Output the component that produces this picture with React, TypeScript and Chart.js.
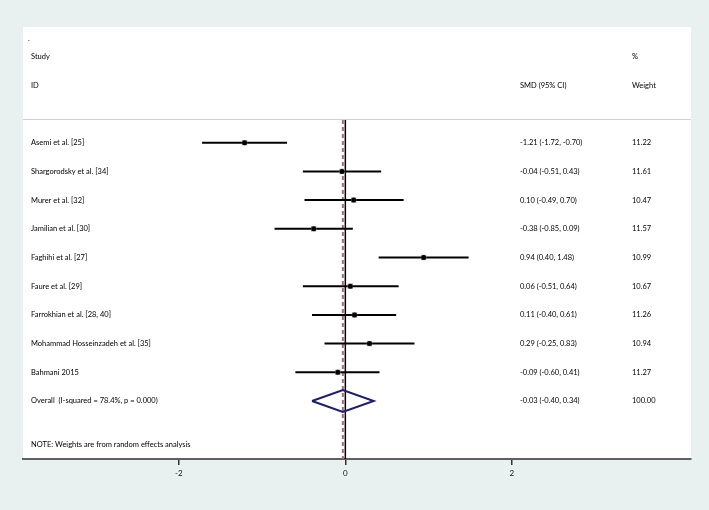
import React, { useEffect, useRef } from "react";
import { Chart, registerables } from "chart.js";

Chart.register(...registerables);

const studies = [
  "Asemi et al. [25]",
  "Shargorodsky et al. [34]",
  "Murer et al. [32]",
  "Jamilian et al. [30]",
  "Faghihi et al. [27]",
  "Faure et al. [29]",
  "Farrokhian et al. [28, 40]",
  "Mohammad Hosseinzadeh et al. [35]",
  "Bahmani 2015",
];
const smd = [-1.21, -0.04, 0.1, -0.38, 0.94, 0.06, 0.11, 0.29, -0.09];
const lower = [-1.72, -0.51, -0.49, -0.85, 0.4, -0.51, -0.4, -0.25, -0.6];
const upper = [-0.7, 0.43, 0.7, 0.09, 1.48, 0.64, 0.61, 0.83, 0.41];
const weights = [11.22, 11.61, 10.47, 11.57, 10.99, 10.67, 11.26, 10.94, 11.27];

const overallLabel = "Overall  (I-squared = 78.4%, p = 0.000)";
const overallEst = -0.03;
const overallLo = -0.4;
const overallHi = 0.34;
const overallWeight = 100.0;

const noteText = "NOTE: Weights are from random effects analysis";
const xTicks = [-2, 0, 2];

const FONT = "Lato, 'Liberation Sans', sans-serif";

const fmt = (v: number) => v.toFixed(2);

export default function App() {
  const ref = useRef<HTMLCanvasElement | null>(null);

  useEffect(() => {
    document.body.style.margin = "0";
    const canvas = ref.current!;
    const overallRow = studies.length;
    const noteRow = overallRow + 1.53;

    const ciSets = studies.map((_, i) => ({
      type: "line" as const,
      data: [
        { x: lower[i], y: i },
        { x: upper[i], y: i },
      ],
      borderColor: "#000",
      borderWidth: 2,
      pointRadius: 0,
      showLine: true,
      order: 5,
    }));

    const bgPlugin = {
      id: "bg",
      beforeDraw(chart: any) {
        const { ctx, chartArea } = chart;
        ctx.save();
        ctx.fillStyle = "#e9f0f0";
        ctx.fillRect(0, 0, chart.width, chart.height);
        ctx.fillStyle = "#ffffff";
        ctx.fillRect(chartArea.left, 27, chartArea.right - chartArea.left, chartArea.bottom - 27);
        ctx.strokeStyle = "#cfd0d8";
        ctx.lineWidth = 1;
        ctx.beginPath();
        ctx.moveTo(chartArea.left, chartArea.top - 0.5);
        ctx.lineTo(chartArea.right, chartArea.top - 0.5);
        ctx.stroke();
        ctx.restore();
      },
    };

    const textPlugin = {
      id: "texts",
      afterDraw(chart: any) {
        const { ctx } = chart;
        const y = chart.scales.y;
        const colL = 31;
        const colE = 520;
        const colW = 632;
        ctx.save();
        ctx.fillStyle = "#000";
        ctx.font = `7.5px ${FONT}`;
        ctx.textBaseline = "middle";
        ctx.textAlign = "left";
        ctx.fillText(".", 28, y.getPixelForValue(-3.62));
        ctx.fillText("Study", colL, y.getPixelForValue(-3));
        ctx.fillText("ID", colL, y.getPixelForValue(-2));
        ctx.fillText("SMD (95% CI)", colE, y.getPixelForValue(-2));
        ctx.fillText("%", colW, y.getPixelForValue(-3));
        ctx.fillText("Weight", colW, y.getPixelForValue(-2));
        studies.forEach((s, i) => {
          const py = y.getPixelForValue(i);
          ctx.fillText(s, colL, py);
          ctx.fillText(`${fmt(smd[i])} (${fmt(lower[i])}, ${fmt(upper[i])})`, colE, py);
          ctx.fillText(fmt(weights[i]), colW, py);
        });
        const po = y.getPixelForValue(overallRow);
        ctx.fillText(overallLabel, colL, po);
        ctx.fillText(`${fmt(overallEst)} (${fmt(overallLo)}, ${fmt(overallHi)})`, colE, po);
        ctx.fillText(fmt(overallWeight), colW, po);
        ctx.fillText(noteText, colL, y.getPixelForValue(noteRow));
        ctx.restore();
      },
    };

    const chart = new Chart(canvas, {
      type: "scatter",
      data: {
        datasets: [
          {
            type: "line",
            data: [
              { x: 0, y: -0.79 },
              { x: 0, y: 11.02 },
            ],
            borderColor: "#000",
            borderWidth: 1.5,
            pointRadius: 0,
            showLine: true,
            order: 10,
          },
          {
            type: "line",
            data: [
              { x: overallEst, y: -0.79 },
              { x: overallEst, y: 11.02 },
            ],
            borderColor: "#a86a7c",
            borderWidth: 2,
            borderDash: [4, 3],
            pointRadius: 0,
            showLine: true,
            order: 9,
          },
          ...ciSets,
          {
            type: "scatter",
            data: smd.map((v, i) => ({ x: v, y: i })),
            pointStyle: "rect",
            pointRadius: 3.8,
            backgroundColor: "#a0a0a0",
            borderWidth: 0,
            order: 3,
          },
          {
            type: "scatter",
            data: smd.map((v, i) => ({ x: v, y: i })),
            pointStyle: "circle",
            pointRadius: 2.5,
            backgroundColor: "#000",
            borderWidth: 0,
            order: 2,
          },
          {
            type: "line",
            data: [
              { x: overallLo, y: overallRow },
              { x: overallEst, y: overallRow - 0.38 },
              { x: overallHi, y: overallRow },
              { x: overallEst, y: overallRow + 0.38 },
              { x: overallLo, y: overallRow },
            ],
            borderColor: "#1c1c74",
            borderWidth: 2,
            pointRadius: 0,
            showLine: true,
            fill: false,
            tension: 0,
            order: 1,
          },
        ] as any,
      },
      options: {
        responsive: false,
        animation: false,
        events: [],
        layout: { padding: { left: 23, right: 18, top: 120, bottom: 0 } },
        plugins: { legend: { display: false }, tooltip: { enabled: false } },
        scales: {
          x: {
            type: "linear",
            position: "bottom",
            min: -3.87,
            max: 4.15,
            afterBuildTicks: (s: any) => {
              s.ticks = xTicks.map((v) => ({ value: v }));
            },
            afterFit: (s: any) => {
              s.height = 51;
            },
            border: { display: true, color: "#606060", width: 2 },
            grid: {
              display: true,
              drawOnChartArea: false,
              drawTicks: true,
              tickLength: 6,
              color: "#333",
              lineWidth: 1.5,
            },
            ticks: {
              color: "#111",
              font: { family: FONT, size: 8 },
              padding: 4,
              callback: (v: any) => String(v),
            },
          },
          y: {
            type: "linear",
            display: false,
            reverse: true,
            min: -0.79,
            max: 11.02,
          },
        },
      },
      plugins: [bgPlugin, textPlugin],
    } as any);
    return () => chart.destroy();
  }, []);

  return (
    <div style={{ width: 709, height: 510 }}>
      <canvas ref={ref} width={709} height={510} />
    </div>
  );
}
